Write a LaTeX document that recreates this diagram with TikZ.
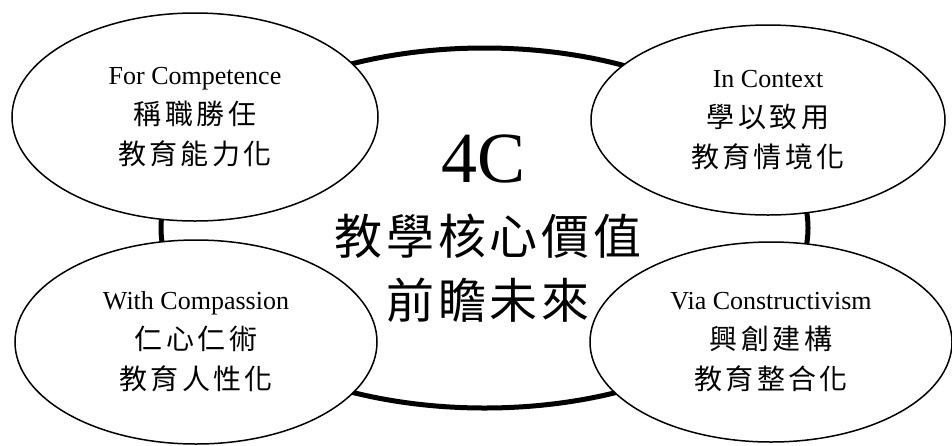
\documentclass[tikz,border=0pt]{standalone}
\usepackage{fontspec}
\setmainfont{Liberation Serif}
\newfontfamily\cjk[LetterSpace=12]{Noto Sans CJK TC}
\newfontfamily\cjkbig[LetterSpace=8]{Noto Sans CJK TC}
\usetikzlibrary{shapes.geometric}
\newcommand{\zh}[1]{{\fontsize{28}{40}\selectfont\cjk #1}}
\begin{document}
\begin{tikzpicture}[x=1pt,y=-1pt,
  core/.style={ellipse, draw, line width=5pt, inner sep=0pt},
  petal/.style={ellipse, draw, line width=1.5pt, fill=white, inner sep=0pt,
    align=center, font=\fontsize{26}{40}\selectfont},
  bigzh/.style={anchor=base, inner sep=0pt, font=\fontsize{48}{48}\selectfont\cjkbig},
  fourc/.style={anchor=base, inner sep=0pt, font=\fontsize{72}{72}\selectfont}]
\useasboundingbox (0,0) rectangle (952,445);
\node[core, minimum width=647pt, minimum height=360pt] (hub) at (484.5,228) {};
\node[petal, minimum width=366pt, minimum height=208pt] (comp) at (195,117)
  {For Competence\\ \zh{稱職勝任}\\ \zh{教育能力化}};
\node[petal, minimum width=354pt, minimum height=190pt] (ctx) at (768,120)
  {In Context\\ \zh{學以致用}\\ \zh{教育情境化}};
\node[petal, minimum width=362pt, minimum height=204pt] (cmp) at (196,342)
  {With Compassion\\ \zh{仁心仁術}\\ \zh{教育人性化}};
\node[petal, minimum width=362pt, minimum height=200pt] (con) at (771,342)
  {Via Constructivism\\ \zh{興創建構}\\ \zh{教育整合化}};
\node[fourc] (t4c) at (484,182) {4C};
\node[bigzh] (tval) at (488,254) {教學核心價值};
\node[bigzh] (tfut) at (488,318) {前瞻未來};
\end{tikzpicture}
\end{document}
